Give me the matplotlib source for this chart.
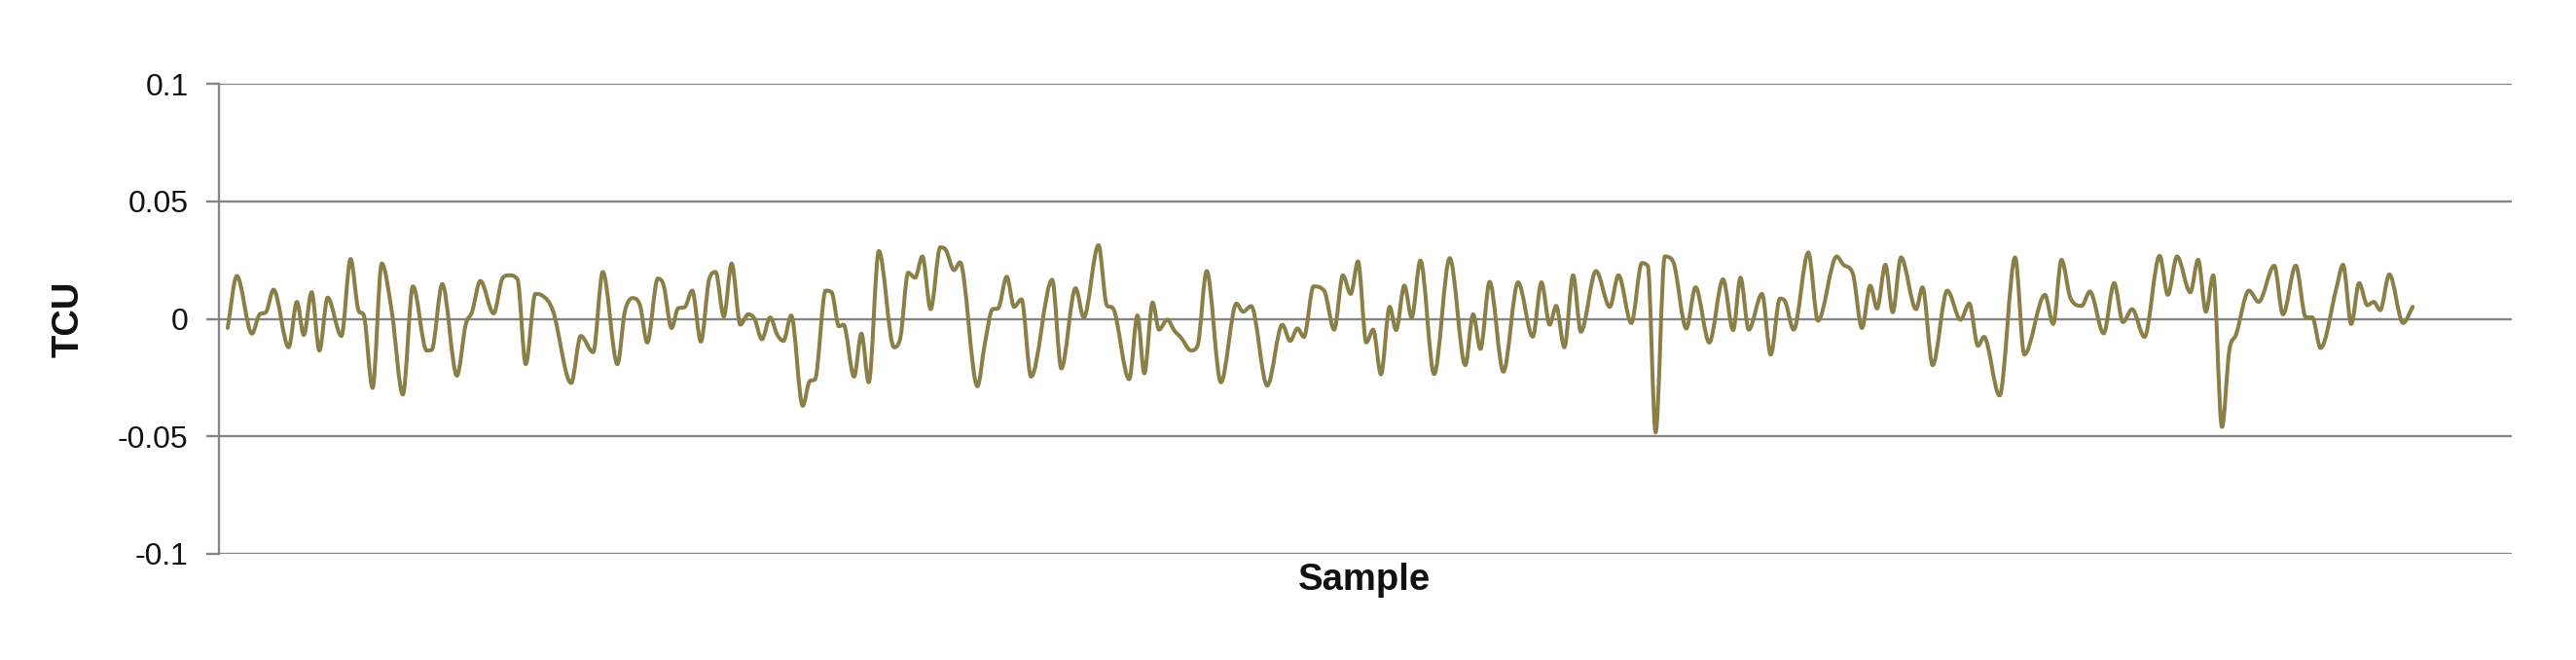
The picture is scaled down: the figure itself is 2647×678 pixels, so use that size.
import numpy as np
import matplotlib
matplotlib.use("Agg")
import matplotlib.pyplot as plt
from matplotlib.path import Path
from matplotlib.patches import PathPatch

# ---- data ----
sample = [
    1.9, 3.9, 7.2, 8.8, 10.3, 11.9, 15.2, 17.0, 18.5, 20.2,
    21.9, 23.7, 26.7, 28.7, 30.4, 31.6, 33.5, 35.5, 37.7, 40.1,
    42.3, 45.3, 46.4, 48.7, 51.9, 53.8, 55.2, 57.0, 59.9, 61.9,
    63.3, 65.1, 66.9, 69.0, 70.4, 72.9, 76.8, 78.9, 81.6, 83.7,
    86.9, 88.5, 90.2, 91.8, 93.4, 95.7, 97.0, 98.7, 100.1, 101.6,
    103.2, 105.1, 106.9, 108.3, 110.1, 111.8, 113.7, 115.4, 116.8, 118.4,
    120.2, 121.7, 123.1, 124.8, 127.3, 128.8, 130.0, 132.3, 133.6, 135.2,
    136.2, 138.5, 140.1, 141.7, 143.9, 147.2, 148.6, 150.3, 151.8, 153.4,
    155.2, 157.3, 158.5, 160.3, 161.6, 165.4, 167.0, 168.7, 169.9, 171.8,
    173.4, 175.0, 177.1, 181.7, 183.7, 186.8, 188.6, 191.8, 193.6, 195.0,
    198.5, 200.3, 201.8, 203.6, 205.0, 206.8, 208.4, 209.8, 212.0, 213.4,
    215.4, 218.5, 221.9, 223.3, 225.1, 228.6, 231.9, 233.6, 235.2, 236.6,
    238.7, 241.0, 243.2, 245.1, 246.8, 248.4, 250.2, 251.7, 253.4, 255.3,
    256.7, 258.5, 260.1, 262.0, 265.0, 268.4, 271.8, 273.5, 275.1, 277.1,
    280.1, 283.3, 286.5, 288.4, 290.2, 291.6, 293.4, 295.3, 297.0, 300.3,
    303.3, 305.2, 308.0, 310.3, 311.6, 313.3, 315.3, 317.1, 320.0, 322.0,
    325.0, 328.0, 330.2, 331.8, 333.6, 336.5, 338.4, 340.4, 341.5, 343.4,
    346.6, 348.7, 352.8, 354.2, 356.3, 358.3, 360.1, 361.6, 363.4, 365.0,
    366.8, 370.1, 371.5, 373.7, 376.9, 379.8, 381.7, 383.6, 384.9, 388.3,
    391.7, 393.7, 398.2, 400.0, 401.8, 403.8, 406.2, 408.0, 411.0, 413.3,
    415.2, 417.2, 419.9, 423.2, 425.0, 427.0, 429.9, 431.6, 433.3, 434.9,
    436.8, 438.4, 439.9, 442.7, 444.8, 448.2, 450.1, 452.9, 455.1, 456.5,
    458.3, 461.8, 463.2, 465.0, 466.7, 468.5, 469.9, 471.3, 473.3, 476.3,
    478.4,
]

tcu = [
    -0.0039, 0.0182, -0.0063, 0.0017, 0.0030, 0.0124, -0.0121, 0.0072, -0.0069, 0.0113,
    -0.0135, 0.0090, -0.0073, 0.0254, 0.0037, 0.0014, -0.0294, 0.0235, 0.0030, -0.0322,
    0.0138, -0.0135, -0.0132, 0.0148, -0.0242, -0.0025, 0.0030, 0.0161, 0.0023, 0.0175,
    0.0185, 0.0168, -0.0193, 0.0106, 0.0100, 0.0030, -0.0273, -0.0073, -0.0142, 0.0199,
    -0.0193, 0.0030, 0.0088, 0.0058, -0.0101, 0.0171, 0.0140, -0.0039, 0.0044, 0.0050,
    0.0120, -0.0097, 0.0168, 0.0199, 0.0010, 0.0235, -0.0025, 0.0019, 0.0000, -0.0087,
    0.0006, -0.0066, -0.0094, 0.0014, -0.0370, -0.0266, -0.0257, 0.0120, 0.0113, -0.0032,
    -0.0025, -0.0246, -0.0063, -0.0270, 0.0288, -0.0121, -0.0080, 0.0196, 0.0175, 0.0265,
    0.0041, 0.0304, 0.0293, 0.0207, 0.0240, -0.0287, -0.0108, 0.0041, 0.0044, 0.0179,
    0.0051, 0.0083, -0.0246, 0.0166, -0.0211, 0.0130, 0.0006, 0.0313, 0.0058, 0.0044,
    -0.0257, 0.0014, -0.0232, 0.0069, -0.0046, -0.0004, -0.0052, -0.0080, -0.0135, -0.0115,
    0.0203, -0.0270, 0.0065, 0.0030, 0.0054, -0.0284, -0.0025, -0.0094, -0.0041, -0.0077,
    0.0138, 0.0120, -0.0046, 0.0185, 0.0106, 0.0244, -0.0101, -0.0046, -0.0236, 0.0051,
    -0.0048, 0.0141, 0.0006, 0.0248, -0.0235, 0.0258, -0.0197, 0.0019, -0.0128, 0.0157,
    -0.0225, 0.0155, -0.0076, 0.0155, -0.0025, 0.0055, -0.0121, 0.0185, -0.0055, 0.0203,
    0.0051, 0.0185, -0.0018, 0.0237, 0.0224, -0.0483, 0.0265, 0.0244, -0.0041, 0.0134,
    -0.0101, 0.0168, -0.0048, 0.0175, -0.0046, 0.0106, -0.0152, 0.0086, 0.0075, -0.0046,
    0.0282, -0.0008, 0.0265, 0.0231, 0.0192, -0.0039, 0.0141, 0.0044, 0.0230, 0.0028,
    0.0261, 0.0041, 0.0134, -0.0197, 0.0120, -0.0004, 0.0065, -0.0115, -0.0077, -0.0326,
    0.0261, -0.0152, 0.0102, -0.0022, 0.0251, 0.0086, 0.0055, 0.0116, -0.0062, 0.0152,
    -0.0014, 0.0041, -0.0077, 0.0268, 0.0102, 0.0265, 0.0113, 0.0251, 0.0030, 0.0185,
    -0.0460, -0.0135, -0.0066, 0.0120, 0.0072, 0.0226, 0.0019, 0.0226, 0.0006, 0.0006,
    -0.0124, 0.0134, 0.0230, -0.0022, 0.0152, 0.0058, 0.0072, 0.0037, 0.0189, -0.0018,
    0.0051,
]

y_ticks = [-0.1, -0.05, 0, 0.05, 0.1]
y_tick_labels = ["-0.1", "-0.05", "0", "0.05", "0.1"]
x_label = "Sample"
y_label = "TCU"

LINE_COLOR = "#8A7F47"
GRID_COLOR = "#858585"

plt.rcParams["font.family"] = ["Liberation Sans", "DejaVu Sans"]


def smooth_path(x, y):
    """Excel-like smoothed line as cubic Bezier path through the data points."""
    x = np.asarray(x, float)
    y = np.asarray(y, float)
    n = len(x)
    d = np.diff(y) / np.diff(x)
    m = np.zeros(n)
    for i in range(1, n - 1):
        if d[i - 1] * d[i] > 0:
            s = (y[i + 1] - y[i - 1]) / (x[i + 1] - x[i - 1])
            lim = 3 * min(abs(d[i - 1]), abs(d[i]))
            m[i] = np.sign(s) * min(abs(s), lim)
    m[0] = d[0]
    m[-1] = d[-1]
    verts = [(x[0], y[0])]
    codes = [Path.MOVETO]
    for i in range(n - 1):
        h = x[i + 1] - x[i]
        verts += [(x[i] + h / 3, y[i] + m[i] * h / 3),
                  (x[i + 1] - h / 3, y[i + 1] - m[i + 1] * h / 3),
                  (x[i + 1], y[i + 1])]
        codes += [Path.CURVE4] * 3
    return Path(verts, codes)


W, H, DPI = 2647, 678, 100
fig = plt.figure(figsize=(W / DPI, H / DPI), dpi=DPI)
fig.patch.set_facecolor("white")

left, right, top, bottom = 225, 2581, 86, 569
ax = fig.add_axes([left / W, 1 - bottom / H, (right - left) / W, (bottom - top) / H])

ax.set_xlim(0, 500)
ax.set_ylim(-0.1, 0.1)

ax.set_yticks(y_ticks)
ax.set_yticklabels(y_tick_labels)
ax.set_xticks([])

ax.yaxis.grid(True, color=GRID_COLOR, linewidth=1.7)
ax.set_axisbelow(True)

for side in ["top", "right", "bottom"]:
    ax.spines[side].set_visible(False)
ax.spines["left"].set_color(GRID_COLOR)
ax.spines["left"].set_linewidth(1.7)

ax.tick_params(axis="y", direction="out", length=9.5, width=1.7, color=GRID_COLOR,
               pad=13, labelsize=23, labelcolor="#111111")

patch = PathPatch(smooth_path(sample, tcu), fill=False, edgecolor=LINE_COLOR,
                  linewidth=2.9, capstyle="round", joinstyle="round", zorder=3)
ax.add_patch(patch)

fig.text(1402 / W, 1 - 606 / H, x_label, ha="center", va="baseline",
         fontsize=27.5, fontweight="bold", color="#111111")
fig.text(71 / W, 1 - 327.5 / H, y_label, ha="center", va="center", rotation=90,
         fontsize=27.5, fontweight="bold", color="#111111")

fig.savefig("out.png", dpi=DPI, facecolor="white")
